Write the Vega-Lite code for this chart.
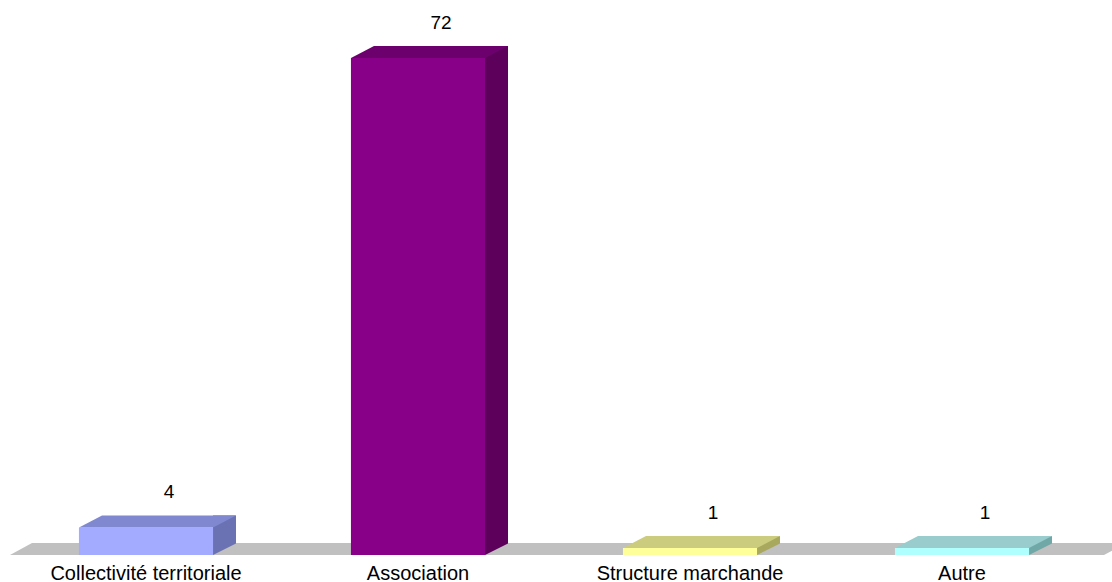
{
  "$schema": "https://vega.github.io/schema/vega-lite/v6.json",
  "width": 1088,
  "height": 555,
  "autosize": "none",
  "padding": {"left": 10, "top": 0, "right": 14, "bottom": 27},
  "background": "white",
  "config": {"view": {"stroke": null}},
  "data": {"values": [
    {"cat": "Collectivité territoriale", "value": 4},
    {"cat": "Association", "value": 72},
    {"cat": "Structure marchande", "value": 1},
    {"cat": "Autre", "value": 1}
  ]},
  "encoding": {
    "x": {"field": "cat", "type": "nominal", "sort": null,
      "scale": {"paddingInner": 0.507, "paddingOuter": 0.2535},
      "axis": {"title": null, "domain": false, "ticks": false, "tickSize": 0, "labelFontSize": 20, "labelFont": "Liberation Sans", "labelColor": "black", "labelPadding": 24, "labelBaseline": "alphabetic", "labelAngle": 0, "labelLimit": 0}},
    "y": {"field": "value", "type": "quantitative", "scale": {"domain": [0, 80.4], "nice": false, "zero": true}, "axis": null}
  },
  "layer": [
    {
      "transform": [{"filter": "datum.cat === 'Collectivité territoriale'"}],
      "mark": {"type": "point", "shape": "M-136,0 L-114,-12 L980,-12 L958,0 Z", "size": 4, "filled": true, "fill": "#C0C0C0", "opacity": 1, "strokeWidth": 0},
      "encoding": {"y": {"datum": 0, "type": "quantitative"}}
    },
    {
      "mark": {"type": "bar", "width": 23, "xOffset": 78.5, "yOffset": -12, "y2Offset": 0},
      "encoding": {
        "y": {"field": "value", "type": "quantitative"},
        "y2": {"datum": 0},
        "color": {"field": "cat", "type": "nominal", "legend": null,
          "scale": {"domain": ["Collectivité territoriale", "Association", "Structure marchande", "Autre"], "range": ["#6A72B4", "#5C005C", "#A8A85E", "#70A8A8"]}}
      }
    },
    {
      "mark": {"type": "point", "shape": "M67,0 L91,-12 L93,-12 L93,0 Z", "size": 4, "filled": true, "fill": "#C0C0C0", "opacity": 1, "strokeWidth": 0},
      "encoding": {"y": {"datum": 0, "type": "quantitative"}}
    },
    {
      "mark": {"type": "bar"},
      "encoding": {
        "y": {"field": "value", "type": "quantitative"},
        "y2": {"datum": 0},
        "color": {"field": "cat", "type": "nominal", "legend": null,
          "scale": {"domain": ["Collectivité territoriale", "Association", "Structure marchande", "Autre"], "range": ["#A2ABFF", "#880088", "#FFFF99", "#B0FFFF"]}}
      }
    },
    {
      "mark": {"type": "point", "shape": "M-67,0 L67,0 L90,-12 L-44,-12 Z", "size": 4, "filled": true, "opacity": 1, "strokeWidth": 0},
      "encoding": {
        "color": {"field": "cat", "type": "nominal", "legend": null,
          "scale": {"domain": ["Collectivité territoriale", "Association", "Structure marchande", "Autre"], "range": ["#8089D0", "#6C006C", "#CCCC7E", "#99CCCC"]}}
      }
    },
    {
      "mark": {"type": "text", "dy": -35, "dx": 23, "baseline": "middle", "align": "center", "fontSize": 19, "font": "Liberation Sans", "color": "black"},
      "encoding": {"text": {"field": "value", "type": "quantitative"}}
    }
  ],
  "resolve": {"scale": {"color": "independent"}}
}
